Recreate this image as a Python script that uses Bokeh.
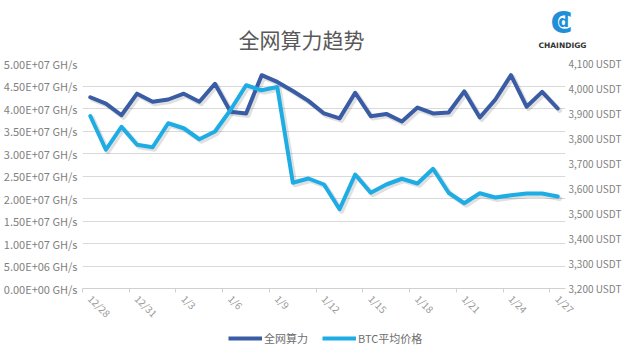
import math
from bokeh.plotting import figure
from bokeh.layouts import column, row
from bokeh.models import (Range1d, LinearAxis, FixedTicker, Legend, LegendItem,
                          Label, ColumnDataSource)
from bokeh.embed import file_html
from bokeh.resources import INLINE

# ---- data ----
dates = ["12/28", "12/29", "12/30", "12/31", "1/1", "1/2", "1/3", "1/4", "1/5",
         "1/6", "1/7", "1/8", "1/9", "1/10", "1/11", "1/12", "1/13", "1/14",
         "1/15", "1/16", "1/17", "1/18", "1/19", "1/20", "1/21", "1/22", "1/23",
         "1/24", "1/25", "1/26", "1/27"]
hashrate = [4.25e7, 4.11e7, 3.85e7, 4.33e7, 4.15e7, 4.20e7, 4.33e7, 4.15e7,
            4.55e7, 3.93e7, 3.89e7, 4.74e7, 4.59e7, 4.39e7, 4.17e7, 3.89e7,
            3.78e7, 4.35e7, 3.83e7, 3.88e7, 3.71e7, 4.02e7, 3.89e7, 3.91e7,
            4.38e7, 3.80e7, 4.20e7, 4.74e7, 4.04e7, 4.37e7, 4.00e7]
price = [3890, 3755, 3847, 3775, 3765, 3861, 3841, 3797, 3828, 3914, 4013,
         3993, 4006, 3623, 3640, 3616, 3517, 3656, 3583, 3616, 3639, 3620,
         3679, 3583, 3541, 3581, 3564, 3573, 3580, 3580, 3568]
hash_ticks = [0, 5e6, 1e7, 1.5e7, 2e7, 2.5e7, 3e7, 3.5e7, 4e7, 4.5e7, 5e7]
hash_tick_labels = ["0.00E+00 GH/s", "5.00E+06 GH/s", "1.00E+07 GH/s",
                    "1.50E+07 GH/s", "2.00E+07 GH/s", "2.50E+07 GH/s",
                    "3.00E+07 GH/s", "3.50E+07 GH/s", "4.00E+07 GH/s",
                    "4.50E+07 GH/s", "5.00E+07 GH/s"]
price_ticks = [3200, 3300, 3400, 3500, 3600, 3700, 3800, 3900, 4000, 4100]
price_tick_labels = ["3,200 USDT", "3,300 USDT", "3,400 USDT", "3,500 USDT",
                     "3,600 USDT", "3,700 USDT", "3,800 USDT", "3,900 USDT",
                     "4,000 USDT", "4,100 USDT"]
label_every = 3
series_names = ["全网算力", "BTC平均价格"]
chart_title = "全网算力趋势"
brand = "CHAINDIGG"

DARK = "#3A5CA5"
LIGHT = "#1DADE4"
GREY_TXT = "#7F7F7F"
FONT = "Noto Sans CJK SC"
W = 624
BL, BR = 78, 56            # main plot side borders
FW = W - BL - BR           # frame width
HEAD_H, MAIN_H, LEG_H = 52, 276, 18
TITLE_W = 530


def bare(fig):
    fig.outline_line_color = None
    fig.background_fill_color = "white"
    fig.border_fill_color = "white"
    fig.xaxis.visible = False
    fig.yaxis.visible = False
    fig.grid.visible = False


# ---------- header: title + logo (pixel-like coordinates) ----------
tfig = figure(width=TITLE_W, height=HEAD_H, output_backend="svg", toolbar_location=None,
              x_range=Range1d(0, TITLE_W), y_range=Range1d(0, HEAD_H), min_border=0)
bare(tfig)
tfig.add_layout(Label(x=301, y=14, text=chart_title, text_font=FONT,
                      text_font_size="21px", text_color="#595959",
                      text_align="center", text_baseline="middle"))

lfig = figure(width=W - TITLE_W, height=HEAD_H, output_backend="svg", toolbar_location=None,
              x_range=Range1d(TITLE_W, W), y_range=Range1d(0, HEAD_H), min_border=0)
bare(lfig)
lfig.add_layout(Label(x=561, y=30, text="C", text_font="DejaVu Sans",
                      text_font_style="bold", text_font_size="30px", text_color="#1E8FD8",
                      text_align="center", text_baseline="middle"))
lfig.add_layout(Label(x=563, y=31, text="d", text_font="DejaVu Sans",
                      text_font_style="bold", text_font_size="15px", text_color="#1E8FD8",
                      text_align="center", text_baseline="middle"))
lfig.add_layout(Label(x=562, y=7, text=brand, text_font="DejaVu Sans",
                      text_font_style="bold", text_font_size="7.5px", text_color="#333333",
                      text_align="center", text_baseline="middle"))
head = row(tfig, lfig, spacing=0)

# ---------- main chart ----------
idx = list(range(len(dates)))
src = ColumnDataSource(dict(x=idx, h=hashrate, p=price))

p = figure(width=W, height=MAIN_H, output_backend="svg", toolbar_location=None,
           x_range=Range1d(-0.5, len(dates) - 0.5), y_range=Range1d(hash_ticks[0], hash_ticks[-1]),
           min_border_left=BL, min_border_right=BR, min_border_top=11, min_border_bottom=38,
           y_axis_location=None, x_axis_location=None)
p.outline_line_color = None
p.background_fill_color = "white"
p.border_fill_color = "white"

p.extra_y_ranges = {"price": Range1d(price_ticks[0], price_ticks[-1])}

# shadow ranges (2px offset)
dx = 2 * (len(dates)) / FW
dy_h = 2 * (hash_ticks[-1] - hash_ticks[0]) / 227.0
dy_p = 2 * (price_ticks[-1] - price_ticks[0]) / 227.0
p.extra_x_ranges = {"shx": Range1d(-0.5 - dx, len(dates) - 0.5 - dx)}
p.extra_y_ranges["shh"] = Range1d(hash_ticks[0] + dy_h, hash_ticks[-1] + dy_h)
p.extra_y_ranges["shp"] = Range1d(price_ticks[0] + dy_p, price_ticks[-1] + dy_p)

left = LinearAxis(ticker=FixedTicker(ticks=hash_ticks))
left.major_label_overrides = {t: l for t, l in zip(hash_ticks, hash_tick_labels)}
left.major_label_text_font_size = "11px"
left.major_label_standoff = 5
right = LinearAxis(y_range_name="price", ticker=FixedTicker(ticks=price_ticks))
right.major_label_overrides = {t: l for t, l in zip(price_ticks, price_tick_labels)}
right.major_label_text_font_size = "10px"
right.major_label_standoff = 3
for ax in (left, right):
    ax.axis_line_color = None
    ax.major_tick_line_color = None
    ax.major_tick_out = 0
    ax.minor_tick_line_color = None
    ax.minor_tick_out = 0
    ax.major_label_text_color = GREY_TXT
    ax.major_label_text_font = FONT
p.add_layout(left, "left")
p.add_layout(right, "right")

major = idx[::label_every]
minor = [i - 0.5 for i in major]
bottom = LinearAxis(ticker=FixedTicker(ticks=major, minor_ticks=minor))
bottom.major_label_overrides = {i: dates[i] for i in major}
bottom.major_label_orientation = -math.pi / 4
bottom.axis_line_color = "#D0D0D0"
bottom.major_tick_line_color = None
bottom.major_tick_out = 0
bottom.minor_tick_line_color = "#D0D0D0"
bottom.minor_tick_in = 0
bottom.minor_tick_out = 4
bottom.major_label_text_color = "#9A9A9A"
bottom.major_label_text_font = FONT
bottom.major_label_text_font_size = "10px"
bottom.major_label_standoff = 4
p.add_layout(bottom, "below")

p.ygrid.ticker = FixedTicker(ticks=hash_ticks)
p.ygrid.grid_line_color = "#D9D9D9"
p.xgrid.grid_line_color = None

p.line("x", "h", source=src, x_range_name="shx", y_range_name="shh",
       line_color="black", line_alpha=0.12, line_width=5, line_join="round", line_cap="round")
p.line("x", "p", source=src, x_range_name="shx", y_range_name="shp",
       line_color="black", line_alpha=0.12, line_width=5, line_join="round", line_cap="round")
p.line("x", "h", source=src, line_color=DARK, line_width=4,
       line_join="round", line_cap="round")
p.line("x", "p", source=src, y_range_name="price", line_color=LIGHT, line_width=4,
       line_join="round", line_cap="round")

# ---------- legend strip ----------
leg = figure(width=W, height=LEG_H, output_backend="svg", toolbar_location=None,
             x_range=Range1d(0, 1), y_range=Range1d(0, 1), min_border=0)
bare(leg)
keysrc = ColumnDataSource(dict(x=[float("nan")], y=[float("nan")]))
l1 = leg.line("x", "y", source=keysrc, line_color=DARK, line_width=4)
l2 = leg.line("x", "y", source=keysrc, line_color=LIGHT, line_width=4)
legend = Legend(items=[LegendItem(label=series_names[0], renderers=[l1]),
                       LegendItem(label=series_names[1], renderers=[l2])],
                orientation="horizontal", location=(146, 0),
                border_line_color=None, background_fill_alpha=0,
                label_text_font=FONT, label_text_font_size="11px",
                label_text_color="#6E6E6E", glyph_width=34, glyph_height=12,
                label_standoff=2, spacing=14, padding=0, margin=0)
leg.add_layout(legend, "center")

layout = column(head, p, leg, spacing=0)
open("out.html", "w").write(file_html(layout, INLINE))
